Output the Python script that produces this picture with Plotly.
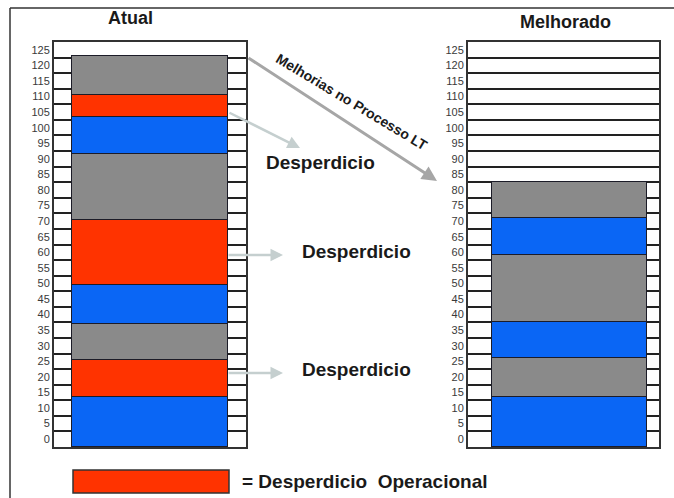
import plotly.graph_objects as go

# Stacked segments, bottom to top (lead time units)
atual_vals = [16, 12, 11.5, 12.5, 21, 21, 12, 7, 12.5]
atual_kinds = ["valor", "desperdicio", "espera", "valor", "desperdicio",
               "espera", "valor", "desperdicio", "espera"]

melhorado_vals = [16, 12.5, 11.5, 21.5, 12, 11.5]
melhorado_kinds = ["valor", "espera", "valor", "espera", "valor", "espera"]

tick_values = list(range(0, 130, 5))
tick_labels = [str(v) for v in tick_values]

kind_colors = {"valor": "#0A66F5", "desperdicio": "#FF3300", "espera": "#8A8A8A"}

W, H = 674, 498


def px(x):
    return x / W


def py(y):
    return 1 - y / H


fig = go.Figure()

for vals, kinds, xa, ya in [(atual_vals, atual_kinds, "x", "y"),
                            (melhorado_vals, melhorado_kinds, "x2", "y2")]:
    for v, k in zip(vals, kinds):
        fig.add_trace(go.Bar(
            x=[0], y=[v], width=0.81,
            marker=dict(color=kind_colors[k], line=dict(color="#1c1c28", width=1.5)),
            xaxis=xa, yaxis=ya, showlegend=False, hoverinfo="skip",
        ))

yaxis_style = dict(
    range=[0, 130],
    tickmode="array",
    tickvals=[v + 2.5 for v in tick_values],
    ticktext=tick_labels,
    ticks="",
    showgrid=False,
    zeroline=False,
    showline=True, mirror=True, linecolor="#333333", linewidth=2,
    tickfont=dict(family="Liberation Sans Narrow, Liberation Sans, Arial", size=11, color="#3a3a3a"),
    minor=dict(tickmode="linear", tick0=0, dtick=5, showgrid=True,
               gridcolor="#222222", gridwidth=1.5, ticks=""),
    fixedrange=True,
)
xaxis_style = dict(
    showticklabels=False, showgrid=False, zeroline=False,
    showline=True, mirror=True, linecolor="#333333", linewidth=2, fixedrange=True,
)

ydom = [py(447), py(42)]
fig.update_layout(
    width=W, height=H,
    margin=dict(l=0, r=0, t=0, b=0),
    paper_bgcolor="white", plot_bgcolor="white",
    barmode="stack", bargap=0,
    xaxis=dict(domain=[px(54), px(246)], anchor="y", range=[-0.5, 0.5], **xaxis_style),
    yaxis=dict(domain=ydom, anchor="x", **yaxis_style),
    xaxis2=dict(domain=[px(468), px(659)], anchor="y2", range=[-0.53, 0.47], **xaxis_style),
    yaxis2=dict(domain=ydom, anchor="x2", **yaxis_style),
)

bold = dict(family="Liberation Sans, Arial", color="#1a1a1a")
annotations = [
    dict(text="<b>Atual</b>", x=px(130), y=py(18), font=dict(size=18, **bold)),
    dict(text="<b>Melhorado</b>", x=px(565), y=py(22), font=dict(size=18, **bold)),
    dict(text="<b>Desperdicio</b>", x=px(320), y=py(162), font=dict(size=19, **bold)),
    dict(text="<b>Desperdicio</b>", x=px(356), y=py(252), font=dict(size=19, **bold)),
    dict(text="<b>Desperdicio</b>", x=px(356), y=py(369), font=dict(size=19, **bold)),
    dict(text="<b>= Desperdicio  Operacional</b>", x=px(240), y=py(481),
         xanchor="left", font=dict(size=19, **bold)),
    dict(text="<b>Melhorias no Processo LT</b>", x=px(352), y=py(102), textangle=31,
         font=dict(size=14, **bold)),
]
for a in annotations:
    a.update(xref="paper", yref="paper", showarrow=False)
    a.setdefault("xanchor", "center")
    a.setdefault("yanchor", "middle")

# arrows: (tail x, tail y, head x, head y, color, width)
arrows = [
    (228, 112, 300, 148, "#c5cfcf", 2.5),
    (227, 255, 283, 255, "#c5cfcf", 2.5),
    (227, 373, 283, 373, "#c5cfcf", 2.5),
    (247, 57, 437, 181, "#a6a6a6", 3),
]
for tx, ty, hx, hy, col, w in arrows:
    annotations.append(dict(
        x=px(hx), y=py(hy), xref="paper", yref="paper",
        ax=tx - hx, ay=ty - hy, axref="pixel", ayref="pixel",
        text="", showarrow=True, arrowhead=2, arrowsize=1,
        arrowwidth=w, arrowcolor=col,
    ))
fig.update_layout(annotations=annotations)

shapes = [
    # legend swatch
    dict(type="rect", xref="paper", yref="paper", x0=px(73), x1=px(229), y0=py(493), y1=py(470),
         fillcolor=kind_colors["desperdicio"], line=dict(color="#333333", width=1.5)),
    # outer frame
    dict(type="line", xref="paper", yref="paper", x0=px(10), x1=px(10), y0=py(8), y1=0,
         line=dict(color="#333333", width=1.5)),
    dict(type="line", xref="paper", yref="paper", x0=px(10), x1=1, y0=py(8), y1=py(8),
         line=dict(color="#333333", width=1.5)),
]
fig.update_layout(shapes=shapes)

fig.write_html("out.html")
